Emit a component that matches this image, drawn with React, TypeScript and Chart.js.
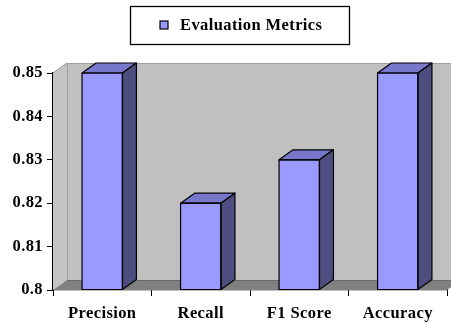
import React, { useEffect, useRef } from "react";
import { Chart, registerables } from "chart.js";

Chart.register(...registerables);

const categories = ["Precision", "Recall", "F1 Score", "Accuracy"];
const metricValues = [0.85, 0.82, 0.83, 0.85];
const seriesName = "Evaluation Metrics";
const yMin = 0.8;
const yMax = 0.85;
const yStep = 0.01;

const FONT = '"Liberation Serif", "Times New Roman", serif';
const DX = 14;
const DY = 10;

const threeD = {
  id: "threeD",
  beforeDraw(chart: any) {
    (chart.ctx as any).letterSpacing = "0.4px";
  },
  beforeDatasetsDraw(chart: any) {
    const { ctx, chartArea } = chart;
    const { left, right, top, bottom } = chartArea;
    ctx.save();
    // back wall
    ctx.fillStyle = "#c0c0c0";
    ctx.fillRect(left + DX, top - DY, chart.width - left, bottom - top);
    ctx.strokeStyle = "#a0a0a0";
    ctx.lineWidth = 1;
    ctx.beginPath();
    ctx.moveTo(left + DX + 0.5, bottom - DY);
    ctx.lineTo(left + DX + 0.5, top - DY + 0.5);
    ctx.lineTo(chart.width, top - DY + 0.5);
    ctx.stroke();
    // left wall
    ctx.fillStyle = "#c4c4c4";
    ctx.beginPath();
    ctx.moveTo(left, bottom);
    ctx.lineTo(left, top);
    ctx.lineTo(left + DX, top - DY);
    ctx.lineTo(left + DX, bottom - DY);
    ctx.closePath();
    ctx.fill();
    ctx.strokeStyle = "#909090";
    ctx.beginPath();
    ctx.moveTo(left, top);
    ctx.lineTo(left + DX, top - DY);
    ctx.stroke();
    // floor
    ctx.fillStyle = "#808080";
    ctx.beginPath();
    ctx.moveTo(left, bottom);
    ctx.lineTo(left + DX, bottom - DY);
    ctx.lineTo(right + DX, bottom - DY);
    ctx.lineTo(right, bottom);
    ctx.closePath();
    ctx.fill();
    ctx.strokeStyle = "#6a6a6a";
    ctx.beginPath();
    ctx.moveTo(left + DX, bottom - DY + 0.5);
    ctx.lineTo(right + DX, bottom - DY + 0.5);
    ctx.stroke();
    ctx.restore();
  },
  afterDatasetsDraw(chart: any) {
    const { ctx } = chart;
    const meta = chart.getDatasetMeta(0);
    ctx.save();
    ctx.lineWidth = 1.2;
    ctx.strokeStyle = "#000";
    ctx.lineJoin = "round";
    meta.data.forEach((bar: any) => {
      const { x, y, base, width } = bar.getProps(["x", "y", "base", "width"], true);
      const x0 = x - width / 2;
      const x1 = x + width / 2;
      // top face
      ctx.fillStyle = "#7777cc";
      ctx.beginPath();
      ctx.moveTo(x0, y);
      ctx.lineTo(x0 + DX, y - DY);
      ctx.lineTo(x1 + DX, y - DY);
      ctx.lineTo(x1, y);
      ctx.closePath();
      ctx.fill();
      ctx.stroke();
      // side face
      ctx.fillStyle = "#4d4d80";
      ctx.beginPath();
      ctx.moveTo(x1, y);
      ctx.lineTo(x1 + DX, y - DY);
      ctx.lineTo(x1 + DX, base - DY);
      ctx.lineTo(x1, base);
      ctx.closePath();
      ctx.fill();
      ctx.stroke();
      // front outline
      ctx.strokeRect(x0, y, width, base - y);
    });
    ctx.restore();
  },
  afterDraw(chart: any) {
    const { ctx } = chart;
    ctx.save();
    ctx.strokeStyle = "#000";
    ctx.lineWidth = 1.3;
    ctx.strokeRect(130.5, 6.5, 219, 38);
    ctx.fillStyle = "#9999ff";
    ctx.fillRect(160, 21, 8, 8);
    ctx.lineWidth = 1.2;
    ctx.strokeRect(160, 21, 8, 8);
    ctx.fillStyle = "#000";
    ctx.font = `bold 16.5px ${FONT}`;
    ctx.textBaseline = "middle";
    ctx.textAlign = "left";
    ctx.fillText(seriesName, 180, 25.5);
    ctx.restore();
    (ctx as any).letterSpacing = "0px";
  },
};

export default function App() {
  const ref = useRef<HTMLCanvasElement>(null);
  useEffect(() => {
    if (!ref.current) return;
    const chart = new Chart(ref.current, {
      type: "bar",
      data: {
        labels: categories,
        datasets: [
          {
            label: seriesName,
            data: metricValues,
            base: yMin,
            backgroundColor: "#9999ff",
            borderColor: "#000",
            borderWidth: 0,
            barPercentage: 0.41,
            categoryPercentage: 1,
          } as any,
        ],
      },
      options: {
        responsive: false,
        animation: false,
        layout: { padding: { top: 73, left: 0, right: 4, bottom: 0 } },
        plugins: {
          legend: { display: false },
          tooltip: { enabled: false },
        },
        scales: {
          x: {
            offset: true,
            grid: {
              offset: true,
              drawOnChartArea: false,
              drawTicks: true,
              tickLength: 6,
              color: "#000",
            },
            border: { display: true, color: "#000", width: 1.2 },
            ticks: {
              color: "#000",
              font: { family: FONT, size: 16.5, weight: "bold" },
              padding: 8,
              maxRotation: 0,
            },
            afterFit: (s: any) => {
              s.height = 33;
            },
          },
          y: {
            min: yMin,
            max: yMax,
            grid: {
              drawOnChartArea: false,
              drawTicks: true,
              tickLength: 6,
              color: "#000",
            },
            border: { display: true, color: "#000", width: 1.2 },
            ticks: {
              stepSize: yStep,
              color: "#000",
              font: { family: FONT, size: 16.5, weight: "bold" },
              padding: 4,
              callback: (v: any) => String(Number(Number(v).toFixed(2))),
            },
            afterFit: (s: any) => {
              s.width = 53;
            },
          },
        },
      },
      plugins: [threeD],
    });
    return () => chart.destroy();
  }, []);
  return (
    <div style={{ position: "fixed", left: 0, top: 0, width: 451, height: 323, background: "#fff" }}>
      <canvas ref={ref} width={451} height={323} />
    </div>
  );
}
